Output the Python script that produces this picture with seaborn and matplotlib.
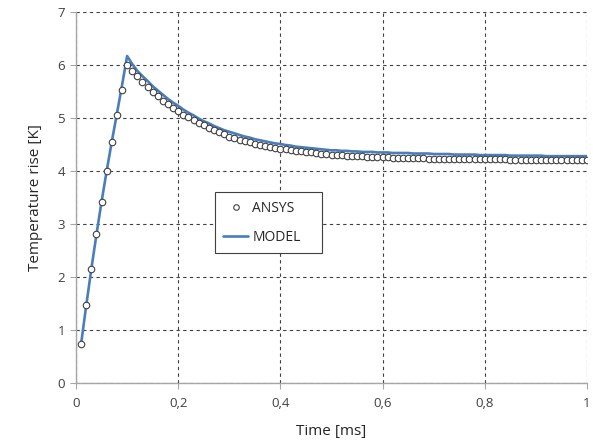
import numpy as np
import pandas as pd
import matplotlib
matplotlib.use("Agg")
import matplotlib.pyplot as plt
import seaborn as sns
from matplotlib.lines import Line2D
from matplotlib.ticker import FuncFormatter

# ---- data ----
time_ms = [round(0.01 * i, 2) for i in range(1, 101)]

ansys_rise = [0.74, 1.47, 2.16, 2.81, 3.42, 4.00, 4.54, 5.05, 5.53, 6.00]
ansys_decay = [5.89, 5.79, 5.68, 5.58, 5.49, 5.41, 5.33, 5.26, 5.19, 5.13,
               5.06, 5.01, 4.96, 4.91, 4.86, 4.82, 4.77, 4.73, 4.69, 4.65,
               4.62, 4.59, 4.56, 4.54, 4.51, 4.49, 4.47, 4.45, 4.44, 4.42,
               4.41, 4.39, 4.38, 4.37, 4.36, 4.35, 4.34, 4.33, 4.32, 4.31,
               4.31, 4.30, 4.29, 4.29, 4.28, 4.28, 4.27, 4.27, 4.26, 4.26,
               4.26, 4.25, 4.25, 4.25, 4.24, 4.24, 4.24, 4.24, 4.23, 4.23,
               4.23, 4.23, 4.23, 4.23, 4.23, 4.22, 4.22, 4.22, 4.22, 4.22,
               4.22, 4.22, 4.22, 4.22, 4.21, 4.21, 4.21, 4.21, 4.21, 4.21,
               4.21, 4.21, 4.21, 4.21, 4.21, 4.21, 4.21, 4.21, 4.21, 4.20]
ansys = ansys_rise + ansys_decay

model_rise = [0.74, 1.46, 2.15, 2.80, 3.42, 4.00, 4.55, 5.08, 5.61, 6.17]
model_decay = [6.02, 5.89, 5.79, 5.70, 5.60, 5.52, 5.44, 5.36, 5.29, 5.23,
               5.16, 5.10, 5.05, 4.99, 4.94, 4.90, 4.85, 4.81, 4.77, 4.74,
               4.71, 4.68, 4.65, 4.63, 4.60, 4.58, 4.56, 4.54, 4.52, 4.51,
               4.49, 4.48, 4.46, 4.45, 4.44, 4.43, 4.42, 4.41, 4.40, 4.39,
               4.39, 4.38, 4.38, 4.37, 4.37, 4.36, 4.36, 4.36, 4.35, 4.35,
               4.35, 4.34, 4.34, 4.34, 4.34, 4.33, 4.33, 4.33, 4.33, 4.32,
               4.32, 4.32, 4.32, 4.31, 4.31, 4.31, 4.31, 4.31, 4.30, 4.30,
               4.30, 4.30, 4.30, 4.30, 4.29, 4.29, 4.29, 4.29, 4.29, 4.29,
               4.29, 4.28, 4.28, 4.28, 4.28, 4.28, 4.28, 4.28, 4.28, 4.28]
model = model_rise + model_decay

x_ticks = [0, 0.2, 0.4, 0.6, 0.8, 1.0]
y_ticks = [0, 1, 2, 3, 4, 5, 6, 7]

df_ansys = pd.DataFrame({"time": time_ms, "temp": ansys})
df_model = pd.DataFrame({"time": time_ms, "temp": model})

# ---- style ----
sns.set_style("white")
plt.rcParams["font.family"] = ["Open Sans", "DejaVu Sans"]

fig = plt.figure(figsize=(5.93, 4.45), dpi=100)
ax = fig.add_axes([76 / 593, 1 - 383 / 445, 511 / 593, 371 / 445])

line_color = "#4A7EBB"

sns.lineplot(data=df_model, x="time", y="temp", ax=ax, color=line_color,
             linewidth=1.9, zorder=3, legend=False)
sns.scatterplot(data=df_ansys, x="time", y="temp", ax=ax, marker="o",
                s=22, facecolor="white", edgecolor="#404040", linewidth=0.8,
                zorder=4, legend=False)

ax.set_xlim(0, 1.0)
ax.set_ylim(0, 7)
ax.set_xticks(x_ticks)
ax.set_yticks(y_ticks)
ax.xaxis.set_major_formatter(FuncFormatter(
    lambda v, p: ("%g" % round(v, 1)).replace(".", ",")))
ax.yaxis.set_major_formatter(FuncFormatter(lambda v, p: "%d" % v))

ax.grid(True, linestyle=(0, (3, 3)), color="#404040", linewidth=0.8)
ax.set_axisbelow(True)
for s in ["top", "right"]:
    ax.spines[s].set_visible(False)
for s in ["left", "bottom"]:
    ax.spines[s].set_color("#A6A6A6")
    ax.spines[s].set_linewidth(1.0)

ax.tick_params(axis="both", which="both", length=4, width=0.8,
               color="#A6A6A6", labelsize=9.5, labelcolor="#404040",
               direction="out", bottom=True, left=True)
ax.tick_params(axis="x", pad=6)
ax.tick_params(axis="y", pad=4)

ax.set_xlabel("Time [ms]", fontsize=11, color="#262626", labelpad=10)
ax.set_ylabel("Temperature rise [K]", fontsize=11, color="#262626", labelpad=10)

handles = [
    Line2D([], [], marker="o", linestyle="none", markersize=4,
           markerfacecolor="white", markeredgecolor="#404040",
           markeredgewidth=0.8, label="ANSYS"),
    Line2D([], [], color=line_color, linewidth=1.9, label="MODEL"),
]
leg = ax.legend(handles=handles, loc="lower left",
                bbox_to_anchor=(139 / 511, 130 / 371, 107 / 511, 60 / 371),
                mode="expand", frameon=True, fancybox=False, fontsize=10,
                handlelength=1.8, handletextpad=0.3, labelspacing=1.0,
                borderpad=0.6, borderaxespad=0)
leg.get_frame().set_edgecolor("#404040")
leg.get_frame().set_linewidth(0.8)
leg.get_frame().set_facecolor("white")
leg.get_frame().set_alpha(1)
leg.set_zorder(10)

fig.savefig("out.png", dpi=100)
